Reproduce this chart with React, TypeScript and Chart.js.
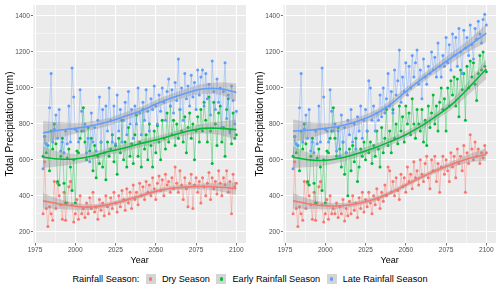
import React, { useEffect, useRef } from "react";
import { Chart, registerables } from "chart.js";
Chart.register(...registerables);

// ---------- DATA ----------
const firstYear = 1980;
const lastYear = 2100;
const years: number[] = [];
for (let y = firstYear; y <= lastYear; y++) years.push(y);

// shared historical values 1980-2005
const histDry = [300, 590, 330, 230, 340, 300, 265, 480, 330, 470, 400, 350, 270, 420, 265, 360, 450, 480, 350, 255, 300, 380, 270, 400, 300, 330];
const histEarly = [620, 730, 640, 680, 540, 760, 660, 800, 690, 480, 460, 620, 720, 470, 360, 610, 660, 560, 430, 600, 360, 650, 640, 720, 760, 890];
const histLate = [550, 730, 690, 680, 890, 1080, 700, 770, 850, 720, 880, 650, 700, 640, 760, 690, 900, 700, 1110, 950, 770, 760, 700, 990, 870, 760];

// left panel projections 2006-2100
const leftDry = [
  280, 360, 300, 390, 330, 420, 310, 340, 270, 380,
  320, 360, 290, 400, 340, 300, 390, 330, 420, 360,
  310, 400, 340, 430, 380, 320, 440, 360, 420, 330,
  460, 380, 420, 350, 470, 400, 450, 380, 480, 420,
  460, 400, 500, 440, 380, 470, 510, 430, 490, 400,
  520, 460, 480, 420, 500, 440, 560, 470, 420, 540,
  460, 380, 500, 440, 340, 470, 520, 330, 460, 500,
  420, 480, 360, 500, 450, 400, 470, 530, 380, 500,
  440, 480, 410, 540, 470, 400, 500, 460, 540, 420,
  480, 300, 520, 450, 470];
const leftEarly = [
  700, 600, 780, 650, 720, 540, 680, 500, 620, 580,
  700, 560, 640, 490, 700, 620, 660, 740, 590, 680,
  520, 720, 640, 820, 600, 700, 560, 780, 620, 690,
  580, 740, 850, 620, 700, 560, 880, 660, 740, 600,
  800, 680, 560, 760, 640, 790, 700, 600, 820, 720,
  660, 860, 700, 900, 740, 820, 680, 800, 720, 880,
  760, 700, 840, 640, 780, 860, 720, 800, 600, 760,
  840, 700, 880, 760, 920, 820, 700, 950, 760, 580,
  920, 800, 680, 860, 900, 700, 780, 620, 880, 940,
  760, 690, 860, 720, 740];
const leftLate = [
  800, 640, 720, 590, 860, 700, 780, 650, 820, 950,
  700, 880, 640, 900, 760, 1000, 820, 700, 900, 690,
  960, 760, 880, 700, 820, 920, 740, 980, 800, 880,
  720, 900, 800, 1000, 860, 740, 920, 820, 990, 870,
  760, 940, 880, 1010, 900, 800, 960, 870, 1000, 920,
  820, 980, 1050, 900, 990, 860, 1030, 930, 1160, 880,
  1000, 820, 1080, 940, 1010, 900, 1070, 950, 1030, 880,
  1100, 960, 1060, 1100, 900, 1080, 940, 1020, 850, 1150,
  980, 880, 1050, 920, 1000, 780, 980, 1140, 830, 960,
  750, 1010, 930, 800, 870];

// right panel projections 2006-2100
const rightDry = [
  300, 360, 280, 340, 300, 380, 260, 330, 290, 370,
  300, 400, 320, 360, 280, 390, 330, 420, 310, 380,
  340, 420, 360, 300, 400, 350, 440, 380, 330, 420,
  370, 460, 400, 560, 540, 420, 480, 400, 500, 430,
  380, 520, 450, 500, 420, 560, 480, 520, 440, 590,
  500, 540, 460, 600, 520, 480, 580, 620, 500, 440,
  600, 540, 620, 480, 580, 420, 560, 620, 520, 600,
  540, 480, 640, 560, 620, 500, 660, 580, 620, 540,
  680, 420, 640, 580, 740, 660, 600, 700, 620, 660,
  580, 640, 610, 680, 640];
const rightEarly = [
  720, 620, 780, 660, 560, 700, 520, 640, 400, 660,
  540, 680, 590, 720, 480, 560, 660, 620, 700, 600,
  760, 640, 700, 580, 680, 620, 760, 660, 560, 780,
  640, 720, 880, 680, 760, 640, 880, 720, 800, 690,
  900, 760, 840, 700, 900, 800, 860, 740, 940, 800,
  720, 880, 800, 760, 880, 700, 820, 680, 900, 780,
  860, 960, 800, 900, 760, 920, 1000, 880, 940, 760,
  1000, 900, 1040, 960, 1060, 900, 1050, 840, 1100, 990,
  1080, 820, 1120, 1000, 1150, 1060, 1140, 1020, 930, 1080,
  1180, 1100, 1200, 1120, 1090];
const rightLate = [
  800, 650, 760, 620, 850, 700, 780, 640, 820, 740,
  880, 700, 800, 660, 840, 760, 900, 720, 820, 880,
  760, 1040, 1000, 820, 900, 760, 860, 820, 960, 840,
  1000, 860, 940, 1080, 900, 980, 860, 1100, 960, 1040,
  1210, 920, 1060, 980, 1140, 960, 1120, 1000, 1180, 1060,
  1140, 1210, 1020, 1100, 940, 1160, 1060, 1020, 1120, 1080,
  1200, 1100, 1170, 1060, 1250, 1120, 1060, 1180, 1120, 1280,
  1140, 1240, 1100, 1300, 1180, 1280, 1120, 1330, 1200, 1080,
  1320, 1220, 1280, 1180, 1350, 1240, 1160, 1330, 1270, 1370,
  1300, 1250, 1380, 1410, 1350];

// loess trend (every 10 years) and half-width of confidence band
const smoothYears = [1980, 1990, 2000, 2010, 2020, 2030, 2040, 2050, 2060, 2070, 2080, 2090, 2100];
const leftDrySmooth = [372, 355, 342, 338, 350, 372, 398, 425, 442, 450, 452, 448, 440];
const leftEarlySmooth = [615, 605, 605, 620, 645, 665, 690, 710, 735, 760, 775, 775, 768];
const leftLateSmooth = [750, 765, 775, 790, 810, 840, 870, 910, 945, 975, 995, 995, 975];
const rightDrySmooth = [372, 355, 345, 345, 358, 380, 415, 460, 505, 545, 580, 610, 630];
const rightEarlySmooth = [615, 600, 597, 610, 635, 665, 700, 740, 790, 850, 920, 1010, 1105];
const rightLateSmooth = [760, 765, 775, 790, 815, 850, 905, 980, 1050, 1115, 1178, 1240, 1305];
const dryBand = [42, 28, 20, 15, 13, 13, 13, 13, 13, 14, 17, 24, 35];
const earlyBand = [60, 40, 28, 22, 20, 20, 20, 20, 20, 22, 28, 38, 55];
const lateBand = [65, 45, 30, 25, 22, 22, 22, 22, 22, 24, 28, 35, 50];

const xTicks = [1975, 1987.5, 2000, 2012.5, 2025, 2037.5, 2050, 2062.5, 2075, 2087.5, 2100];
const yTicks = [200, 300, 400, 500, 600, 700, 800, 900, 1000, 1100, 1200, 1300, 1400];
const xMajor = [1975, 2000, 2025, 2050, 2075, 2100];
const yMajor = [200, 400, 600, 800, 1000, 1200, 1400];

const seriesNames = ["Dry Season", "Early Rainfall Season", "Late Rainfall Season"];
const seriesColors = ["#F8766D", "#00BA38", "#619CFF"];
const seriesLines = ["rgba(248,118,109,0.55)", "rgba(0,186,56,0.55)", "rgba(97,156,255,0.55)"];

// ---------- CHART ----------
const FONT = "'Liberation Sans', Arial, sans-serif";

const bgPlugin = {
  id: "panelBg",
  beforeDraw(chart: any) {
    const { ctx, chartArea } = chart;
    ctx.save();
    ctx.fillStyle = "#EBEBEB";
    ctx.fillRect(chartArea.left, chartArea.top, chartArea.right - chartArea.left, chartArea.bottom - chartArea.top);
    ctx.restore();
  },
};

function buildDatasets(raw: number[][], smooth: number[][]) {
  const bands = [dryBand, earlyBand, lateBand];
  const ds: any[] = [];
  raw.forEach((vals, s) => {
    ds.push({
      label: seriesNames[s],
      data: years.map((y, i) => ({ x: y, y: vals[i] })),
      borderColor: seriesLines[s],
      borderWidth: 0.7,
      pointRadius: 1.5,
      pointBackgroundColor: seriesColors[s],
      pointBorderWidth: 0,
      fill: false,
      tension: 0,
      order: 20 - s,
    });
  });
  smooth.forEach((vals, s) => {
    const upperIndex = ds.length;
    ds.push({
      label: seriesNames[s] + " upper",
      data: smoothYears.map((y, i) => ({ x: y, y: vals[i] + bands[s][i] })),
      borderWidth: 0,
      borderColor: "rgba(0,0,0,0)",
      pointRadius: 0,
      fill: false,
      tension: 0.4,
      order: 10,
    });
    ds.push({
      label: seriesNames[s] + " lower",
      data: smoothYears.map((y, i) => ({ x: y, y: vals[i] - bands[s][i] })),
      borderWidth: 0,
      borderColor: "rgba(0,0,0,0)",
      pointRadius: 0,
      fill: { target: upperIndex },
      backgroundColor: "rgba(153,153,153,0.4)",
      tension: 0.4,
      order: 10,
    });
  });
  smooth.forEach((vals, s) => {
    ds.push({
      label: seriesNames[s] + " trend",
      data: smoothYears.map((y, i) => ({ x: y, y: vals[i] })),
      borderColor: seriesColors[s],
      borderWidth: 1.6,
      pointRadius: 0,
      fill: false,
      tension: 0.4,
      order: 1,
    });
  });
  return ds;
}

function Panel({ raw, smooth }: { raw: number[][]; smooth: number[][] }) {
  const ref = useRef<HTMLCanvasElement | null>(null);
  useEffect(() => {
    if (!ref.current) return;
    const chart = new Chart(ref.current, {
      type: "line",
      data: { datasets: buildDatasets(raw, smooth) },
      plugins: [bgPlugin],
      options: {
        animation: false,
        responsive: false,
        events: [],
        layout: { padding: { left: 0, top: 4, right: 3.2, bottom: 0 } },
        plugins: { legend: { display: false }, tooltip: { enabled: false } },
        scales: {
          x: {
            type: "linear",
            min: 1974,
            max: 2106,
            afterBuildTicks: (scale: any) => {
              scale.ticks = xTicks.map((v) => ({ value: v }));
            },
            afterFit: (scale: any) => {
              scale.height = 25;
            },
            ticks: {
              autoSkip: false,
              maxRotation: 0,
              padding: 1,
              color: "#4D4D4D",
              font: { family: FONT, size: 6.6 },
              callback: (v: any) => (xMajor.includes(Number(v)) ? String(v) : ""),
            },
            grid: {
              color: "#FFFFFF",
              lineWidth: (c: any) => (xMajor.includes(c.tick?.value) ? 1 : 0.5),
              tickLength: 2.5,
              tickColor: (c: any) => (xMajor.includes(c.tick?.value) ? "#333333" : "rgba(0,0,0,0)"),
              tickWidth: 0.7,
            },
            border: { display: false },
            title: {
              display: true,
              text: "Year",
              color: "#000000",
              font: { family: FONT, size: 9 },
              padding: { top: 0, bottom: 2.5 },
            },
          },
          y: {
            type: "linear",
            min: 138,
            max: 1461,
            afterBuildTicks: (scale: any) => {
              scale.ticks = yTicks.map((v) => ({ value: v }));
            },
            afterFit: (scale: any) => {
              scale.width = 33.4;
            },
            ticks: {
              autoSkip: false,
              padding: 1,
              color: "#4D4D4D",
              font: { family: FONT, size: 6.6 },
              callback: (v: any) => (yMajor.includes(Number(v)) ? String(v) : ""),
            },
            grid: {
              color: "#FFFFFF",
              lineWidth: (c: any) => (yMajor.includes(c.tick?.value) ? 1 : 0.5),
              tickLength: 2.5,
              tickColor: (c: any) => (yMajor.includes(c.tick?.value) ? "#333333" : "rgba(0,0,0,0)"),
              tickWidth: 0.7,
            },
            border: { display: false },
            title: {
              display: true,
              text: "Total Precipitation (mm)",
              color: "#000000",
              font: { family: FONT, size: 10 },
              padding: { top: 4, bottom: 0 },
            },
          },
        },
      } as any,
    });
    return () => chart.destroy();
  }, []);
  return <canvas ref={ref} width={250} height={268} style={{ display: "block", width: 250, height: 268 }} />;
}

function LegendKey({ color }: { color: string }) {
  return (
    <span
      style={{
        display: "inline-block",
        position: "relative",
        width: 10,
        height: 10,
        background: "#D5D5D5",
        marginLeft: 6.5,
        marginRight: 6,
      }}
    >
      <span
        style={{
          position: "absolute",
          left: 3.4,
          top: 3.4,
          width: 3.2,
          height: 3.2,
          borderRadius: "50%",
          background: color,
        }}
      />
    </span>
  );
}

export default function App() {
  const leftRaw = [histDry.concat(leftDry), histEarly.concat(leftEarly), histLate.concat(leftLate)];
  const rightRaw = [histDry.concat(rightDry), histEarly.concat(rightEarly), histLate.concat(rightLate)];
  const leftSmooth = [leftDrySmooth, leftEarlySmooth, leftLateSmooth];
  const rightSmooth = [rightDrySmooth, rightEarlySmooth, rightLateSmooth];
  return (
    <div style={{ position: "absolute", left: 0, top: 0, width: 500, height: 289, background: "#FFFFFF" }}>
      <div style={{ position: "absolute", left: 0, top: 0 }}>
        <Panel raw={leftRaw} smooth={leftSmooth} />
      </div>
      <div style={{ position: "absolute", left: 250, top: 0 }}>
        <Panel raw={rightRaw} smooth={rightSmooth} />
      </div>
      <div
        style={{
          position: "absolute",
          left: 0,
          top: 268,
          width: 500,
          height: 22,
          display: "flex",
          alignItems: "center",
          justifyContent: "center",
          fontFamily: FONT,
          fontSize: 9.2,
          color: "#000000",
          whiteSpace: "nowrap",
        }}
      >
        <span>Rainfall Season:</span>
        {seriesNames.map((n, i) => (
          <React.Fragment key={n}>
            <LegendKey color={seriesColors[i]} />
            <span>{n}</span>
          </React.Fragment>
        ))}
      </div>
    </div>
  );
}
